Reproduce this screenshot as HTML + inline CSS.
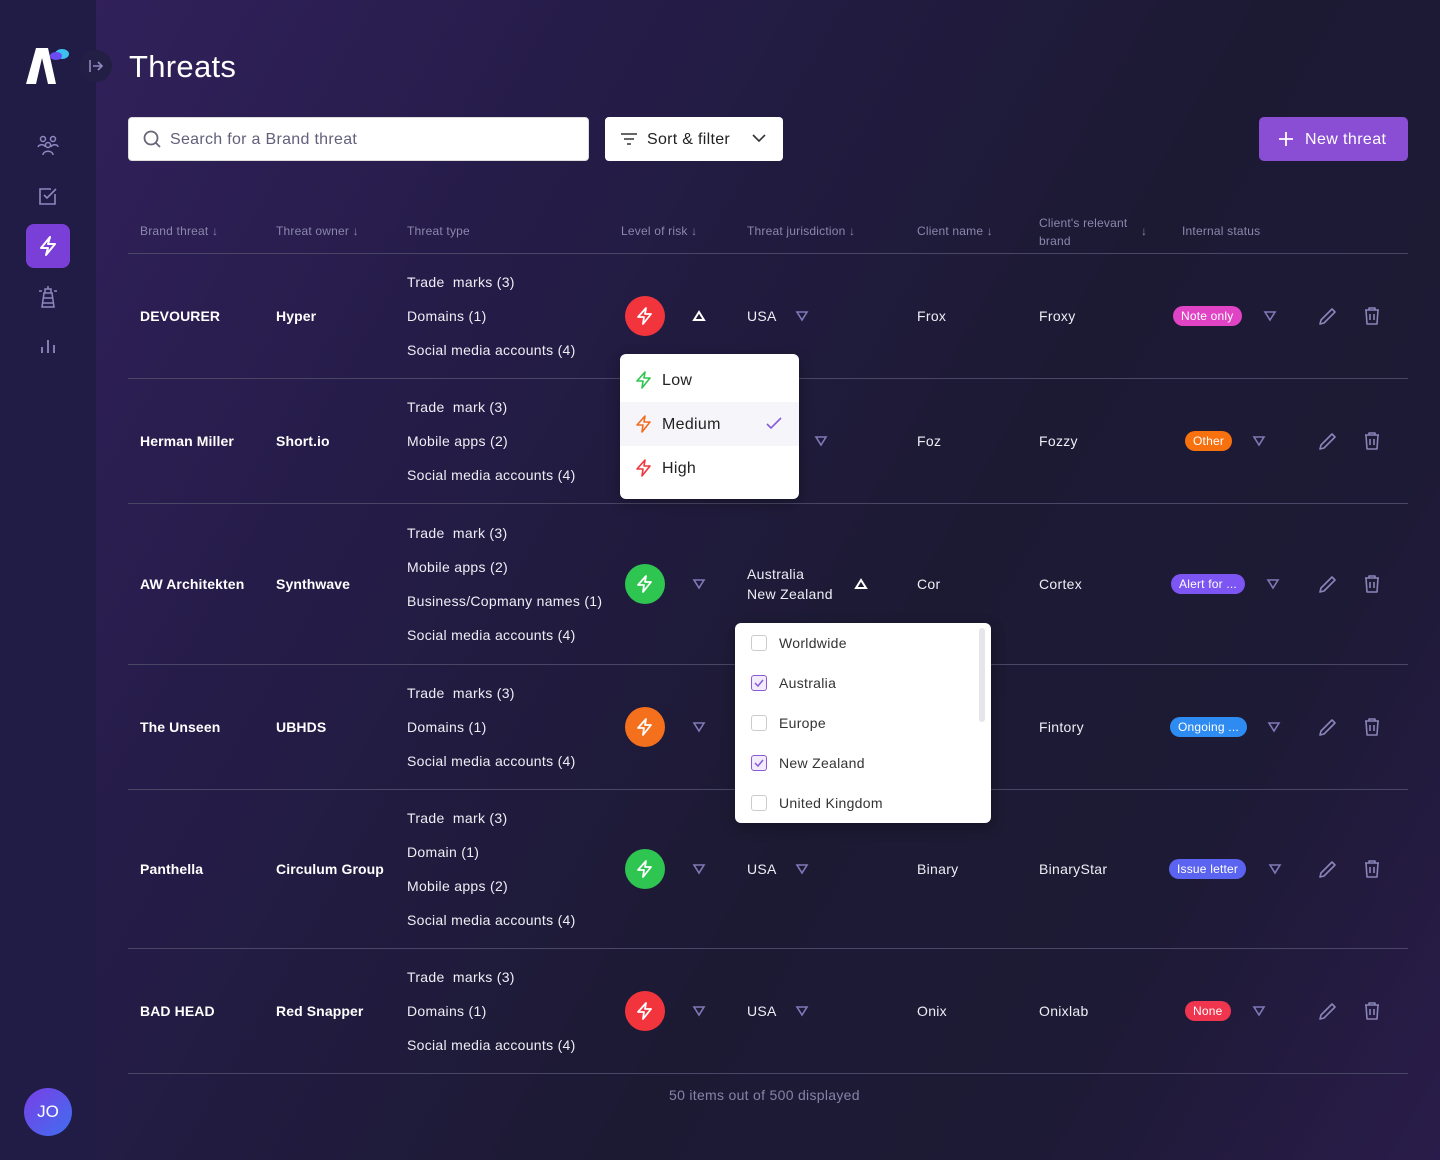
<!DOCTYPE html>
<html><head><meta charset="utf-8"><style>
*{margin:0;padding:0;box-sizing:border-box}
body{width:1440px;height:1160px;overflow:hidden;font-family:"Liberation Sans",sans-serif;background:linear-gradient(120deg,#33215e 0%,#251c48 30%,#1c1a33 60%,#1d1a35 80%,#2a1c4a 100%);position:relative;color:#fff}
.a{position:absolute;white-space:nowrap}
.side{position:absolute;left:0;top:0;width:96px;height:1160px;background:#201c45}
.t{font-size:14px;line-height:20px;color:#eeeef5;letter-spacing:.3px}
.b{font-size:14px;font-weight:bold;line-height:20px;color:#fff;letter-spacing:.1px}
.h{font-size:12px;color:#8b87ad;line-height:16px;letter-spacing:.2px}
.line{position:absolute;left:128px;width:1280px;height:1px;background:#4a4766}
.risk{position:absolute;width:40px;height:40px;border-radius:50%;display:flex;align-items:center;justify-content:center}
.badge{position:absolute;height:20px;border-radius:10px;font-size:12px;line-height:20px;padding:0 8px;color:#fff;letter-spacing:.2px}
</style></head><body>
<div class="side"></div>
<svg class="a" style="left:26px;top:46px" width="46" height="40"><polygon points="10,2 22,2 30,38 22,38 16,12 10,38 0,38" fill="#fff"/><ellipse cx="36" cy="8" rx="7" ry="5" fill="#3bc0f0"/><ellipse cx="30" cy="10" rx="6" ry="4" fill="#6a4cf0"/></svg>
<div class="a" style="left:80px;top:50px;width:32px;height:32px;border-radius:50%;background:#231f44"></div>
<svg class="a" style="left:88px;top:58px" width="16" height="16" fill="none" stroke="#8e88c0" stroke-width="1.6"><path d="M2 2v12M5 8h9M10 4l4 4-4 4"/></svg>
<div class="a" style="left:129px;top:47px;font-size:31px;line-height:40px;letter-spacing:.3px">Threats</div>
<svg class="a" style="left:36px;top:134px" width="24" height="24" fill="none" stroke="#8e88c0" stroke-width="1.5"><circle cx="7" cy="5" r="2.5"/><circle cx="17" cy="5" r="2.5"/><circle cx="12" cy="11" r="2.5"/><path d="M2 13c1-3 7-3 7 0M15 13c1-3 7-3 7 0M7 21c0-5 10-5 10 0"/></svg>
<svg class="a" style="left:37px;top:185px" width="22" height="22" fill="none" stroke="#8e88c0" stroke-width="1.6"><path d="M18 9v10H3V4h11"/><path d="M7 10l3 3 9-9"/></svg>
<div class="a" style="left:26px;top:224px;width:44px;height:44px;border-radius:8px;background:#7a3fd6"></div>
<svg class="a" style="left:37px;top:235px" width="22" height="22" fill="none" stroke="#fff" stroke-width="2" stroke-linejoin="round"><path d="M13 2L4 13h7l-2 7 9-11h-7z"/></svg>
<svg class="a" style="left:37px;top:285px" width="22" height="24" fill="none" stroke="#8e88c0" stroke-width="1.5"><path d="M8 4h6v4H8zM7 8h8l2 14H5zM6 13h10M6 18h10M2 6h3M17 6h3M11 1v3"/></svg>
<svg class="a" style="left:39px;top:337px" width="18" height="18" stroke="#8e88c0" stroke-width="1.8"><path d="M3 16v-6M9 16V3M15 16v-8"/></svg>
<div class="a" style="left:24px;top:1088px;width:48px;height:48px;border-radius:50%;background:linear-gradient(135deg,#7a3fe6,#3f6ef0);font-size:17px;line-height:48px;text-align:center">JO</div>
<div class="a" style="left:128px;top:117px;width:461px;height:44px;background:#fff;border-radius:4px;border:1px solid #ddd"></div>
<svg class="a" style="left:143px;top:130px" width="18" height="18" fill="none" stroke="#667" stroke-width="1.8"><circle cx="8" cy="8" r="6.5"/><path d="M13 13l4 4"/></svg>
<div class="a" style="left:170px;top:130px;font-size:16px;line-height:20px;color:#62607a;letter-spacing:.3px">Search for a Brand threat</div>
<div class="a" style="left:605px;top:117px;width:178px;height:44px;background:#fff;border-radius:4px"></div>
<svg class="a" style="left:620px;top:131px" width="18" height="16" stroke="#333" stroke-width="1.6"><path d="M1 3h16M4 8h10M7 13h4"/></svg>
<div class="a" style="left:647px;top:130px;font-size:16px;line-height:20px;color:#222;letter-spacing:.3px">Sort &amp; filter</div>
<svg class="a" style="left:752px;top:133px" width="14" height="10" fill="none" stroke="#333" stroke-width="1.6"><path d="M1 2l6 6 6-6"/></svg>
<div class="a" style="left:1259px;top:117px;width:149px;height:44px;background:#8a4ed4;border-radius:5px"></div>
<svg class="a" style="left:1278px;top:131px" width="16" height="16" stroke="#fff" stroke-width="1.8"><path d="M8 1v14M1 8h14"/></svg>
<div class="a" style="left:1305px;top:130px;font-size:16px;line-height:20px;letter-spacing:.4px">New threat</div>
<div class="a h" style="left:140px;top:223px">Brand threat ↓</div>
<div class="a h" style="left:276px;top:223px">Threat owner ↓</div>
<div class="a h" style="left:407px;top:223px">Threat type</div>
<div class="a h" style="left:621px;top:223px">Level of risk ↓</div>
<div class="a h" style="left:747px;top:223px">Threat jurisdiction ↓</div>
<div class="a h" style="left:917px;top:223px">Client name ↓</div>
<div class="a h" style="left:1039px;top:214px;line-height:18px">Client's relevant<br>brand</div>
<div class="a h" style="left:1141px;top:223px">↓</div>
<div class="a h" style="left:1182px;top:223px">Internal status</div>
<div class="line" style="top:253px"></div>
<div class="line" style="top:378px"></div>
<div class="line" style="top:503px"></div>
<div class="line" style="top:664px"></div>
<div class="line" style="top:789px"></div>
<div class="line" style="top:948px"></div>
<div class="line" style="top:1073px"></div>

<div class="a b" style="left:140px;top:306px">DEVOURER</div>
<div class="a b" style="left:276px;top:306px">Hyper</div>
<div class="a t" style="left:407px;top:272px">Trade &nbsp;marks (3)</div>
<div class="a t" style="left:407px;top:306px">Domains (1)</div>
<div class="a t" style="left:407px;top:340px">Social media accounts (4)</div>
<div class="risk" style="left:625px;top:296px;background:#f2353d"><svg width="20" height="20" fill="none" stroke="#fff" stroke-width="1.8" stroke-linejoin="round"><path d="M11 2L3 11h6l-1 7 8-10h-6z"/></svg></div>
<svg class="a" style="left:692px;top:310px" width="14" height="12" fill="none" stroke="#fff" stroke-width="2"><path d="M7 2L2 10h10z"/></svg>
<div class="a t" style="left:747px;top:306px">USA</div>
<svg class="a" style="left:795px;top:310px" width="14" height="12" fill="none" stroke="#7f79b8" stroke-width="1.6"><path d="M2 2h10L7 10z"/></svg>
<div class="a t" style="left:917px;top:306px">Frox</div>
<div class="a t" style="left:1039px;top:306px">Froxy</div>
<div class="badge" style="left:1173px;top:306px;background:#e043c4">Note only</div>
<svg class="a" style="left:1263px;top:310px" width="14" height="12" fill="none" stroke="#7f79b8" stroke-width="1.6"><path d="M2 2h10L7 10z"/></svg>

<div class="a b" style="left:140px;top:431px">Herman Miller</div>
<div class="a b" style="left:276px;top:431px">Short.io</div>
<div class="a t" style="left:407px;top:397px">Trade &nbsp;mark (3)</div>
<div class="a t" style="left:407px;top:431px">Mobile apps (2)</div>
<div class="a t" style="left:407px;top:465px">Social media accounts (4)</div>
<svg class="a" style="left:814px;top:435px" width="14" height="12" fill="none" stroke="#7f79b8" stroke-width="1.6"><path d="M2 2h10L7 10z"/></svg>
<div class="a t" style="left:917px;top:431px">Foz</div>
<div class="a t" style="left:1039px;top:431px">Fozzy</div>
<div class="badge" style="left:1185px;top:431px;background:#f8710f">Other</div>
<svg class="a" style="left:1252px;top:435px" width="14" height="12" fill="none" stroke="#7f79b8" stroke-width="1.6"><path d="M2 2h10L7 10z"/></svg>

<div class="a b" style="left:140px;top:574px">AW Architekten</div>
<div class="a b" style="left:276px;top:574px">Synthwave</div>
<div class="a t" style="left:407px;top:523px">Trade &nbsp;mark (3)</div>
<div class="a t" style="left:407px;top:557px">Mobile apps (2)</div>
<div class="a t" style="left:407px;top:591px">Business/Copmany names (1)</div>
<div class="a t" style="left:407px;top:625px">Social media accounts (4)</div>
<div class="risk" style="left:625px;top:564px;background:#2ec551"><svg width="20" height="20" fill="none" stroke="#fff" stroke-width="1.8" stroke-linejoin="round"><path d="M11 2L3 11h6l-1 7 8-10h-6z"/></svg></div>
<svg class="a" style="left:692px;top:578px" width="14" height="12" fill="none" stroke="#7f79b8" stroke-width="1.6"><path d="M2 2h10L7 10z"/></svg>
<div class="a t" style="left:747px;top:564px">Australia</div>
<div class="a t" style="left:747px;top:584px">New Zealand</div>
<svg class="a" style="left:854px;top:578px" width="14" height="12" fill="none" stroke="#fff" stroke-width="2"><path d="M7 2L2 10h10z"/></svg>
<div class="a t" style="left:917px;top:574px">Cor</div>
<div class="a t" style="left:1039px;top:574px">Cortex</div>
<div class="badge" style="left:1171px;top:574px;background:#7d55f2">Alert for ...</div>
<svg class="a" style="left:1266px;top:578px" width="14" height="12" fill="none" stroke="#7f79b8" stroke-width="1.6"><path d="M2 2h10L7 10z"/></svg>

<div class="a b" style="left:140px;top:717px">The Unseen</div>
<div class="a b" style="left:276px;top:717px">UBHDS</div>
<div class="a t" style="left:407px;top:683px">Trade &nbsp;marks (3)</div>
<div class="a t" style="left:407px;top:717px">Domains (1)</div>
<div class="a t" style="left:407px;top:751px">Social media accounts (4)</div>
<div class="risk" style="left:625px;top:707px;background:#f4701d"><svg width="20" height="20" fill="none" stroke="#fff" stroke-width="1.8" stroke-linejoin="round"><path d="M11 2L3 11h6l-1 7 8-10h-6z"/></svg></div>
<svg class="a" style="left:692px;top:721px" width="14" height="12" fill="none" stroke="#7f79b8" stroke-width="1.6"><path d="M2 2h10L7 10z"/></svg>
<div class="a t" style="left:1039px;top:717px">Fintory</div>
<div class="badge" style="left:1170px;top:717px;background:#2d8bf2">Ongoing ...</div>
<svg class="a" style="left:1267px;top:721px" width="14" height="12" fill="none" stroke="#7f79b8" stroke-width="1.6"><path d="M2 2h10L7 10z"/></svg>

<div class="a b" style="left:140px;top:859px">Panthella</div>
<div class="a b" style="left:276px;top:859px">Circulum Group</div>
<div class="a t" style="left:407px;top:808px">Trade &nbsp;mark (3)</div>
<div class="a t" style="left:407px;top:842px">Domain (1)</div>
<div class="a t" style="left:407px;top:876px">Mobile apps (2)</div>
<div class="a t" style="left:407px;top:910px">Social media accounts (4)</div>
<div class="risk" style="left:625px;top:849px;background:#2ec551"><svg width="20" height="20" fill="none" stroke="#fff" stroke-width="1.8" stroke-linejoin="round"><path d="M11 2L3 11h6l-1 7 8-10h-6z"/></svg></div>
<svg class="a" style="left:692px;top:863px" width="14" height="12" fill="none" stroke="#7f79b8" stroke-width="1.6"><path d="M2 2h10L7 10z"/></svg>
<div class="a t" style="left:747px;top:859px">USA</div>
<svg class="a" style="left:795px;top:863px" width="14" height="12" fill="none" stroke="#7f79b8" stroke-width="1.6"><path d="M2 2h10L7 10z"/></svg>
<div class="a t" style="left:917px;top:859px">Binary</div>
<div class="a t" style="left:1039px;top:859px">BinaryStar</div>
<div class="badge" style="left:1169px;top:859px;background:#5b64f0">Issue letter</div>
<svg class="a" style="left:1268px;top:863px" width="14" height="12" fill="none" stroke="#7f79b8" stroke-width="1.6"><path d="M2 2h10L7 10z"/></svg>

<div class="a b" style="left:140px;top:1001px">BAD HEAD</div>
<div class="a b" style="left:276px;top:1001px">Red Snapper</div>
<div class="a t" style="left:407px;top:967px">Trade &nbsp;marks (3)</div>
<div class="a t" style="left:407px;top:1001px">Domains (1)</div>
<div class="a t" style="left:407px;top:1035px">Social media accounts (4)</div>
<div class="risk" style="left:625px;top:991px;background:#f2353d"><svg width="20" height="20" fill="none" stroke="#fff" stroke-width="1.8" stroke-linejoin="round"><path d="M11 2L3 11h6l-1 7 8-10h-6z"/></svg></div>
<svg class="a" style="left:692px;top:1005px" width="14" height="12" fill="none" stroke="#7f79b8" stroke-width="1.6"><path d="M2 2h10L7 10z"/></svg>
<div class="a t" style="left:747px;top:1001px">USA</div>
<svg class="a" style="left:795px;top:1005px" width="14" height="12" fill="none" stroke="#7f79b8" stroke-width="1.6"><path d="M2 2h10L7 10z"/></svg>
<div class="a t" style="left:917px;top:1001px">Onix</div>
<div class="a t" style="left:1039px;top:1001px">Onixlab</div>
<div class="badge" style="left:1185px;top:1001px;background:#f0354f">None</div>
<svg class="a" style="left:1252px;top:1005px" width="14" height="12" fill="none" stroke="#7f79b8" stroke-width="1.6"><path d="M2 2h10L7 10z"/></svg>

<svg class="a" style="left:1316px;top:0" width="70" height="1160" fill="none" stroke="#8a85b8" stroke-width="1.6" stroke-linejoin="round">
<defs><g id="ic"><path d="M4 18l1-4L16 3l3 3L8 17z"/><path d="M49 4h14M53 4V2h6v2M50 4l1 14h10l1-14M54 8v6M58 8v6"/></g></defs>
<use href="#ic" y="306"/><use href="#ic" y="431"/><use href="#ic" y="574"/><use href="#ic" y="717"/><use href="#ic" y="859"/><use href="#ic" y="1001"/>
</svg>

<div class="a" style="left:620px;top:354px;width:179px;height:145px;background:#fff;border-radius:6px;box-shadow:0 4px 14px rgba(0,0,0,.3)"></div>
<div class="a" style="left:620px;top:402px;width:179px;height:44px;background:#f6f6fa"></div>
<svg class="a" style="left:634px;top:370px" width="20" height="20" fill="none" stroke="#2ec551" stroke-width="1.6" stroke-linejoin="round"><path d="M11 2L3 11h6l-1 7 8-10h-6z"/></svg>
<svg class="a" style="left:634px;top:414px" width="20" height="20" fill="none" stroke="#f26b1d" stroke-width="1.6" stroke-linejoin="round"><path d="M11 2L3 11h6l-1 7 8-10h-6z"/></svg>
<svg class="a" style="left:634px;top:458px" width="20" height="20" fill="none" stroke="#f2353d" stroke-width="1.6" stroke-linejoin="round"><path d="M11 2L3 11h6l-1 7 8-10h-6z"/></svg>
<div class="a" style="left:662px;top:370px;font-size:16px;line-height:22px;color:#222;letter-spacing:.3px">Low</div>
<div class="a" style="left:662px;top:414px;font-size:16px;line-height:22px;color:#222;letter-spacing:.3px">Medium</div>
<div class="a" style="left:662px;top:458px;font-size:16px;line-height:22px;color:#222;letter-spacing:.3px">High</div>
<svg class="a" style="left:766px;top:417px" width="16" height="14" fill="none" stroke="#8a5bd8" stroke-width="1.6"><path d="M1 7l4 4 10-10"/></svg>

<div class="a" style="left:735px;top:623px;width:256px;height:200px;background:#fff;border-radius:6px;box-shadow:0 4px 14px rgba(0,0,0,.3)"></div>
<div class="a" style="left:979px;top:628px;width:6px;height:94px;background:#e6e6ea;border-radius:3px"></div>
<div class="a" style="left:751px;top:635px;width:16px;height:16px;border:1px solid #ccc;border-radius:3px"></div>
<div class="a" style="left:751px;top:675px;width:16px;height:16px;border:1px solid #8a5bd8;border-radius:3px;background:#f1ebfb"></div>
<div class="a" style="left:751px;top:715px;width:16px;height:16px;border:1px solid #ccc;border-radius:3px"></div>
<div class="a" style="left:751px;top:755px;width:16px;height:16px;border:1px solid #8a5bd8;border-radius:3px;background:#f1ebfb"></div>
<div class="a" style="left:751px;top:795px;width:16px;height:16px;border:1px solid #ccc;border-radius:3px"></div>
<svg class="a" style="left:753px;top:678px" width="12" height="10" fill="none" stroke="#8a5bd8" stroke-width="1.5"><path d="M2 5l3 3 5-6"/></svg>
<svg class="a" style="left:753px;top:758px" width="12" height="10" fill="none" stroke="#8a5bd8" stroke-width="1.5"><path d="M2 5l3 3 5-6"/></svg>
<div class="a t" style="left:779px;top:633px;color:#333">Worldwide</div>
<div class="a t" style="left:779px;top:673px;color:#333">Australia</div>
<div class="a t" style="left:779px;top:713px;color:#333">Europe</div>
<div class="a t" style="left:779px;top:753px;color:#333">New Zealand</div>
<div class="a t" style="left:779px;top:793px;color:#333">United Kingdom</div>

<div class="a" style="left:669px;top:1086px;font-size:14px;line-height:18px;color:#8683a8;letter-spacing:.3px">50 items out of 500 displayed</div>
</body></html>
